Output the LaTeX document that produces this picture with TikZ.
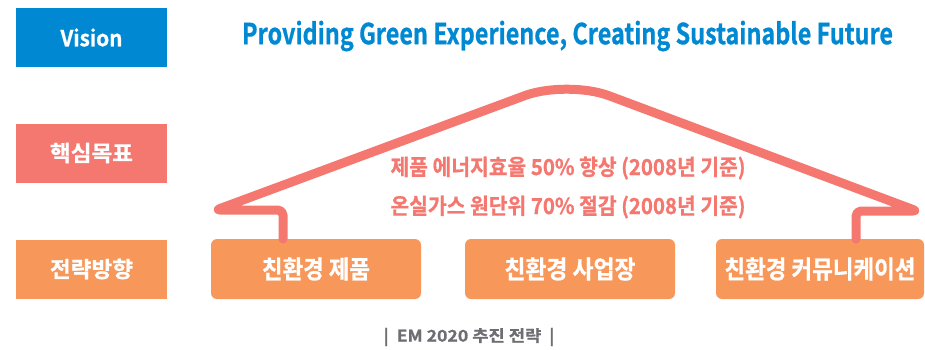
\documentclass[tikz,border=0pt]{standalone}
\usepackage{fontspec}
\setmainfont{Noto Sans CJK KR}[BoldFont={* Bold}, BoldFeatures={FakeBold=0.8}]
\usetikzlibrary{positioning}

\definecolor{visionblue}{HTML}{0088D2}
\definecolor{goalred}{HTML}{F47770}
\definecolor{stratorange}{HTML}{F7975A}
\definecolor{captiongray}{HTML}{6D6E71}

% squeeze a text to a given width, keeping its height
\newcommand{\fitw}[2]{\resizebox{#1}{\height}{#2}}

\tikzset{
  labelbox/.style={minimum width=151pt, minimum height=59pt, inner sep=0pt,
    text=white, font=\bfseries\fontsize{22}{22}\selectfont},
  stratbox/.style={fill=stratorange, rounded corners=6pt, minimum width=210pt,
    minimum height=60pt, inner sep=0pt, text=white,
    font=\bfseries\fontsize{25}{25}\selectfont},
  goaltext/.style={text=goalred, font=\bfseries\fontsize{22}{22}\selectfont},
  roof/.style={draw=goalred, line width=9pt, line cap=round, line join=round}
}

\begin{document}
\begin{tikzpicture}[x=1pt, y=-1pt]
  \useasboundingbox (0,0) rectangle (925,349);
  % left column
  \node[labelbox, fill=visionblue] (vision) at (91.5,37.5) {\fitw{62pt}{Vision}};
  \node[labelbox, fill=goalred] (goal) at (91.5,153) {\fitw{83pt}{핵심목표}};
  \node[labelbox, fill=stratorange] (strat) at (91.5,269) {\fitw{83pt}{전략방향}};
  \node[text=visionblue, font=\bfseries\fontsize{29}{29}\selectfont] (title) at (567.5,36)
    {\fitw{651pt}{Providing Green Experience, Creating Sustainable Future}};
  % strategy boxes
  \node[stratbox] (prod) at (316,269) {\fitw{108pt}{친환경 제품}};
  \node[stratbox] (site) at (570,269) {\fitw{131pt}{친환경 사업장}};
  \node[stratbox, minimum width=208pt] (comm) at (820,269) {\fitw{191pt}{친환경 커뮤니케이션}};
  % roof
  \coordinate (lfoot) at (283,239);
  \coordinate (rfoot) at (856,239);
  \draw[roof] (lfoot) [rounded corners=5pt] -- (283,210) [rounded corners=4pt] -- (216,210)
    [rounded corners=45pt] -- (567,80) [rounded corners=4pt] -- (917,211)
    [rounded corners=5pt] -- (856,211) -- (rfoot);
  % goals
  \node[goaltext] (goal1) at (568,168) {\fitw{355pt}{제품 에너지효율 50\% 향상 (2008년 기준)}};
  \node[goaltext] (goal2) at (568,207) {\fitw{355pt}{온실가스 원단위 70\% 절감 (2008년 기준)}};
  \node[text=captiongray, font=\bfseries\fontsize{16}{16}\selectfont] (caption) at (469,337)
    {\fitw{171pt}{|\ \ EM 2020 추진 전략\ \ |}};
\end{tikzpicture}
\end{document}
